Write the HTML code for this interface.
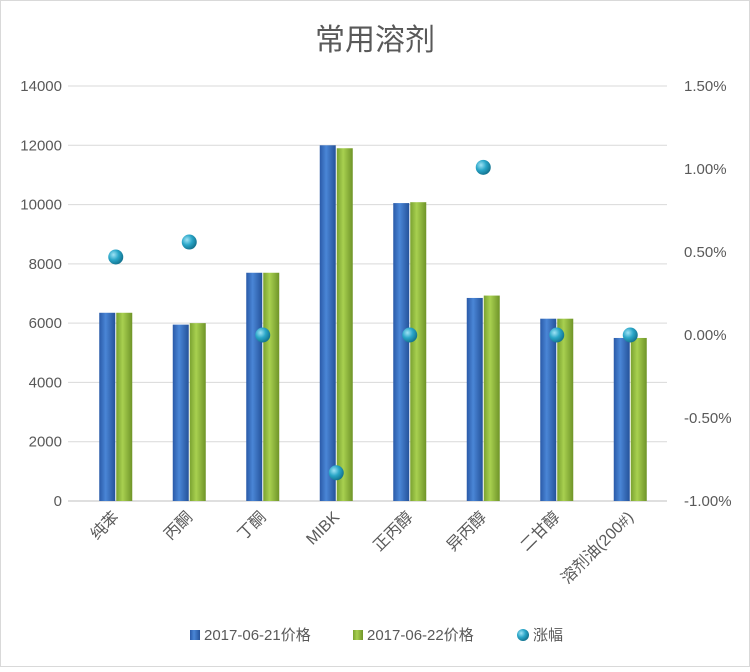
<!DOCTYPE html>
<html><head><meta charset="utf-8"><style>
body{margin:0;background:#fff;}
svg text{font-family:"Liberation Sans","Noto Sans CJK SC",sans-serif;fill:#595959;}
</style></head><body>
<svg id="c" width="750" height="667" xmlns="http://www.w3.org/2000/svg">
<defs>
<linearGradient id="gb" x1="0" x2="1"><stop offset="0" stop-color="#2a5aa8"/><stop offset="0.4" stop-color="#4a86d6"/><stop offset="1" stop-color="#24529a"/></linearGradient>
<linearGradient id="gg" x1="0" x2="1"><stop offset="0" stop-color="#7aa230"/><stop offset="0.4" stop-color="#a8d050"/><stop offset="1" stop-color="#6f9428"/></linearGradient>
<radialGradient id="gd" cx="0.35" cy="0.35" r="0.7"><stop offset="0" stop-color="#9fe3f5"/><stop offset="0.5" stop-color="#2aa6c8"/><stop offset="1" stop-color="#12708c"/></radialGradient>
</defs>
<rect x="0.5" y="0.5" width="749" height="666" fill="#fff" stroke="#d9d9d9"/>
<text x="375" y="50" text-anchor="middle" font-size="30">常用溶剂</text>
<g id="grid"></g><g id="bars"></g><g id="dots"></g><g id="labels"></g>
<g>
<rect x="190" y="630" width="10" height="10" fill="url(#gb)"/>
<text x="204" y="640" font-size="15">2017-06-21价格</text>
<rect x="353" y="630" width="10" height="10" fill="url(#gg)"/>
<text x="367" y="640" font-size="15">2017-06-22价格</text>
<circle cx="523" cy="635" r="6" fill="url(#gd)"/>
<text x="533" y="640" font-size="15">涨幅</text>
</g>
</svg>
<script>
const categories=["纯苯","丙酮","丁酮","MIBK","正丙醇","异丙醇","二甘醇","溶剂油(200#)"];
const price0621=[6350,5950,7700,12000,10050,6850,6150,5500];
const price0622=[6350,6000,7700,11900,10080,6930,6150,5500];
const change=[0.47,0.56,0,-0.83,0,1.01,0,0];
const leftTicks=[0,2000,4000,6000,8000,10000,12000,14000];
const rightTicks=["-1.00%","-0.50%","0.00%","0.50%","1.00%","1.50%"];
const rightVals=[-1,-0.5,0,0.5,1,1.5];
const NS="http://www.w3.org/2000/svg";
const X0=79,X1=667,Y0=501,Y1=86;
const yL=v=>Y0-(v/14000)*(Y0-Y1);
const yR=v=>Y0-((v+1)/2.5)*(Y0-Y1);
const step=(X1-X0)/categories.length;
const xc=i=>X0+step*(i+0.5);
function mk(t,a,p){const e=document.createElementNS(NS,t);for(const k in a)e.setAttribute(k,a[k]);p.appendChild(e);return e;}
const G=document.getElementById('grid'),B=document.getElementById('bars'),D=document.getElementById('dots'),L=document.getElementById('labels');
leftTicks.forEach(v=>{
 const l=mk('line',{x1:68,x2:X1,y1:yL(v),y2:yL(v),stroke:v===0?'#bfbfbf':'#d9d9d9','stroke-width':1},G);
 
 
 const t=mk('text',{x:62,y:yL(v)+5,'text-anchor':'end','font-size':15},G);t.textContent=v;
 
 
});
rightVals.forEach((v,i)=>{
 const t=mk('text',{x:684,y:yR(v)+5,'font-size':15},G);t.textContent=rightTicks[i];
 
 
});
categories.forEach((c,i)=>{
 const cx=xc(i),w=16;
 const b1=mk('rect',{x:cx-w-0.5,y:yL(price0621[i]),width:w,height:Y0-yL(price0621[i]),fill:'url(#gb)'},B);
 
 
 const b2=mk('rect',{x:cx+0.5,y:yL(price0622[i]),width:w,height:Y0-yL(price0622[i]),fill:'url(#gg)'},B);
 
 
 const d=mk('circle',{cx:cx,cy:yR(change[i]),r:7.5,fill:'url(#gd)'},D);
 
 
 const t=mk('text',{x:0,y:0,'text-anchor':'end','font-size':16,transform:`translate(${cx+4},${Y0+17}) rotate(-45)`},L);
 t.textContent=c;
 
 
});
</script>
</body></html>
